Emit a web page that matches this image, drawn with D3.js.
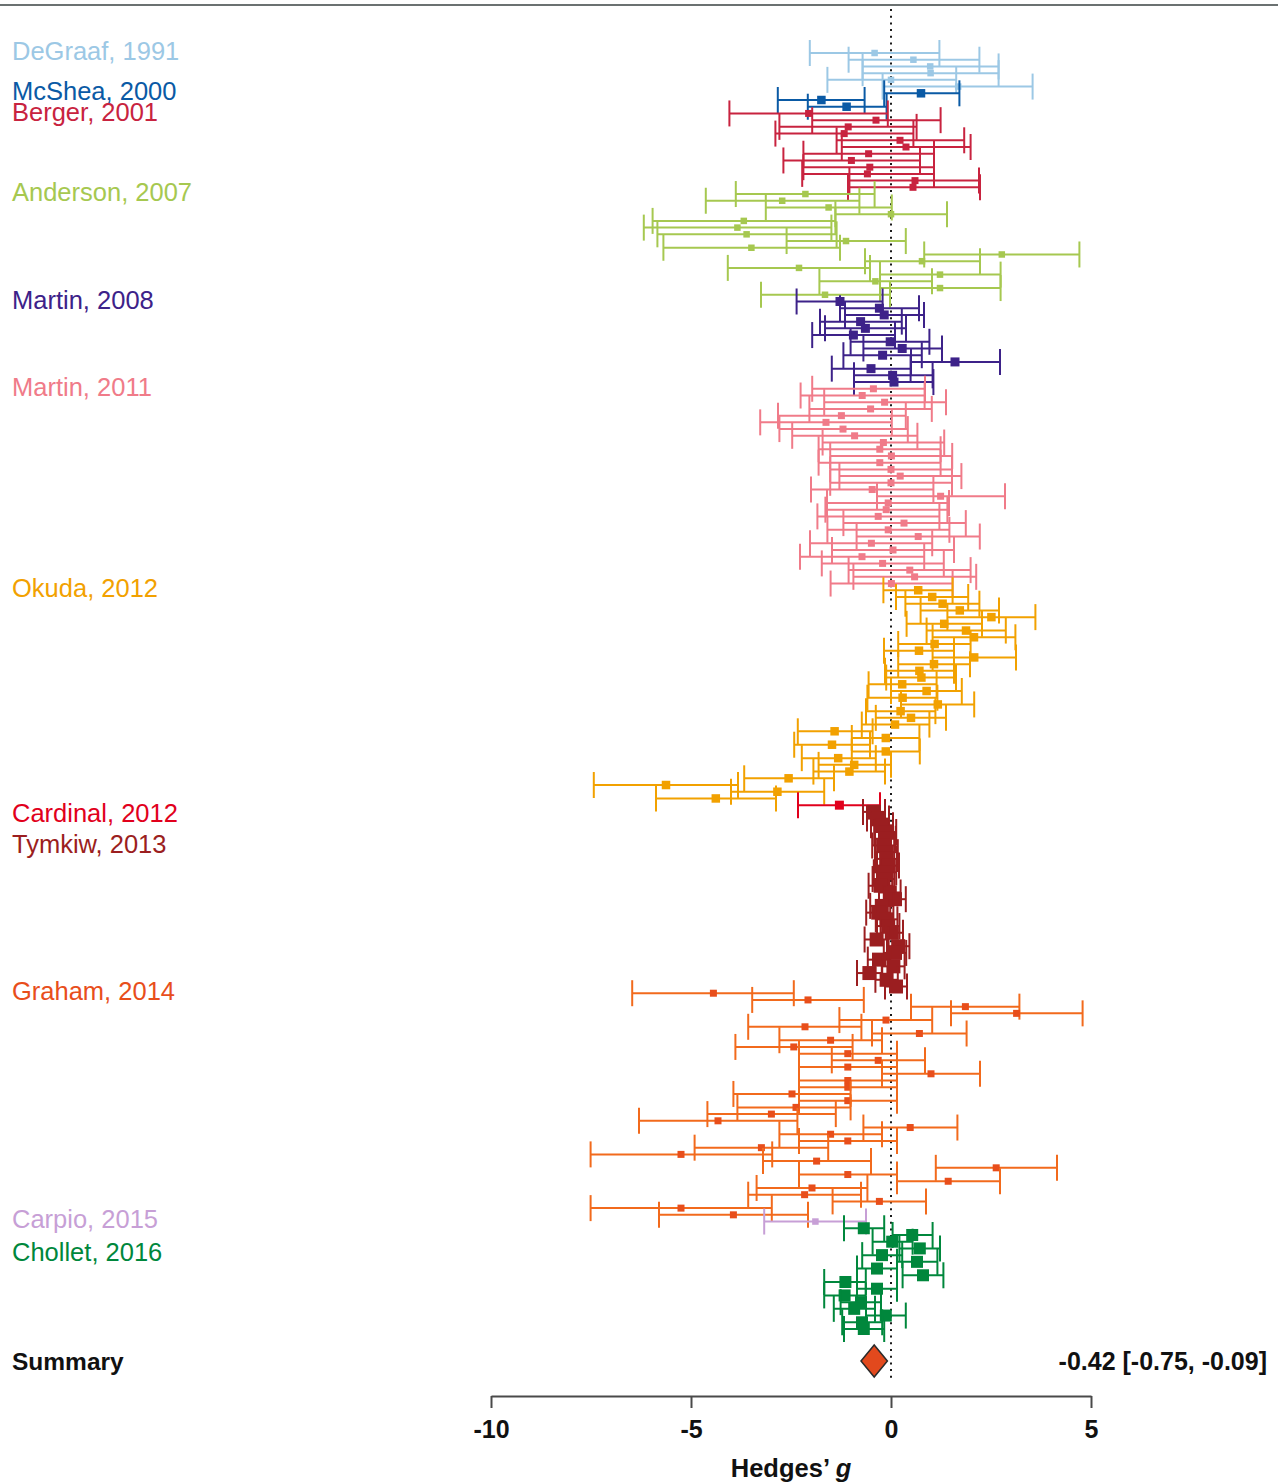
<!DOCTYPE html>
<html><head><meta charset="utf-8">
<script src="https://cdn.jsdelivr.net/npm/d3@7"></script>
<style>body{margin:0;background:#fff}svg{display:block}</style>
</head><body>
<svg id="chart" width="1278" height="1483"></svg>
<script>
// ---------- DATA: [Hedges' g, lower 95% CI, upper 95% CI] per effect size ----------
const studyNames = ["DeGraaf, 1991","McShea, 2000","Berger, 2001","Anderson, 2007","Martin, 2008","Martin, 2011","Okuda, 2012","Cardinal, 2012","Tymkiw, 2013","Graham, 2014","Carpio, 2015","Chollet, 2016"];

const deGraaf1991 = [[-0.41,-2.03,1.21],[0.56,-1.06,2.21],[0.98,-0.71,2.69],[0.99,-0.71,2.69],[0.00,-1.59,1.63],[1.68,-0.21,3.54]];
const mcShea2000 = [[0.75,-0.17,1.71],[-1.74,-2.83,-0.66],[-1.11,-2.08,-0.11]];
const berger2001 = [[-2.06,-4.04,-0.08],[-0.375,-1.97,1.24],[-1.07,-2.79,0.64],[-1.17,-2.89,0.56],[0.225,-1.36,1.83],[0.375,-1.23,1.99],[-0.56,-2.19,1.075],[-0.99,-2.69,0.725],[-0.53,-2.19,1.075],[-0.59,-2.22,1.075],[0.60,-1.04,2.20],[0.55,-1.075,2.225]];
const anderson2007 = [[-2.14,-3.88,-0.41],[-2.72,-4.63,-0.79],[-1.56,-3.13,0.02],[0.00,-1.39,1.40],[-3.68,-5.96,-1.39],[-3.84,-6.18,-1.49],[-3.61,-5.84,-1.36],[-1.125,-2.61,0.37],[-3.49,-5.69,-1.275],[2.77,0.83,4.71],[0.775,-0.65,2.225],[-2.30,-4.08,-0.525],[1.225,-0.275,2.74],[-0.39,-1.79,1.025],[1.225,-0.275,2.74],[-1.65,-3.25,-0.025]];
const martin2008 = [[-1.275,-2.36,-0.21],[-0.29,-1.275,0.70],[-0.17,-1.15,0.825],[-0.76,-1.775,0.27],[-0.64,-1.65,0.375],[-0.94,-1.97,0.10],[-0.02,-1.01,0.96],[0.28,-0.69,1.275],[-0.21,-1.19,0.77],[1.60,0.50,2.725],[-0.50,-1.48,0.49],[0.04,-0.925,1.04],[0.075,-0.925,1.06]];
const martin2011 = [[-0.44,-1.97,0.85],[-0.72,-2.26,0.84],[-0.16,-1.67,1.375],[-0.51,-2.04,1.02],[-1.24,-2.825,0.37],[-1.625,-3.27,0.02],[-1.20,-2.79,0.42],[-0.91,-2.47,0.66],[-0.19,-1.71,1.33],[-0.28,-1.81,1.24],[0.01,-1.52,1.53],[-0.28,-1.81,1.24],[0.00,-1.52,1.525],[0.23,-1.29,1.76],[0.00,-1.52,1.525],[-0.47,-2.00,1.06],[1.24,-0.35,2.85],[-0.07,-1.60,1.45],[-0.12,-1.64,1.41],[-0.32,-1.84,1.21],[0.325,-1.19,1.87],[-0.07,-1.59,1.46],[0.68,-0.86,2.22],[-0.49,-2.025,1.03],[0.05,-1.475,1.575],[-0.725,-2.275,0.83],[-0.21,-1.73,1.32],[0.47,-1.06,1.99],[0.59,-0.94,2.13],[0.01,-1.51,1.54]];
const okuda2012 = [[0.68,-0.19,1.54],[1.03,0.125,1.93],[1.29,0.36,2.21],[1.72,0.74,2.70],[2.51,1.41,3.61],[1.33,0.39,2.275],[1.875,0.89,2.87],[2.075,1.04,3.11],[1.09,0.18,1.99],[0.70,-0.175,1.575],[2.08,1.04,3.125],[1.075,0.18,1.975],[0.71,-0.15,1.575],[0.76,-0.12,1.625],[0.28,-0.56,1.14],[0.89,0.00,1.77],[0.29,-0.59,1.16],[1.17,0.25,2.08],[0.24,-0.625,1.11],[0.50,-0.38,1.375],[0.10,-0.73,0.96],[-1.41,-2.33,-0.46],[-0.13,-0.98,0.71],[-1.475,-2.42,-0.525],[-0.13,-0.98,0.72],[-1.32,-2.23,-0.38],[-0.92,-1.81,0.00],[-1.04,-1.94,-0.15],[-2.56,-3.67,-1.425],[-5.625,-7.43,-3.825],[-2.84,-4.00,-1.67],[-4.38,-5.875,-2.875]];
const cardinal2012 = [[-1.29,-2.325,-0.275]];
const tymkiw2013 = [[-0.43,-0.70,-0.15],[-0.32,-0.60,-0.05],[-0.23,-0.50,0.05],[-0.15,-0.42,0.13],[-0.15,-0.40,0.12],[-0.19,-0.47,0.08],[-0.11,-0.38,0.17],[-0.12,-0.40,0.15],[-0.07,-0.35,0.20],[-0.15,-0.43,0.13],[-0.19,-0.46,0.08],[-0.26,-0.56,0.03],[-0.03,-0.30,0.24],[0.10,-0.17,0.37],[-0.23,-0.52,0.06],[-0.32,-0.62,-0.02],[-0.11,-0.38,0.16],[-0.07,-0.35,0.21],[0.02,-0.26,0.30],[-0.36,-0.66,-0.06],[0.18,-0.10,0.46],[0.10,-0.18,0.38],[-0.30,-0.58,-0.02],[0.06,-0.22,0.34],[-0.54,-0.85,-0.23],[-0.11,-0.39,0.17],[0.125,-0.15,0.40]];
const graham2014 = [[-4.44,-6.47,-2.43],[-2.075,-3.47,-0.68],[1.86,0.50,3.21],[3.14,1.50,4.79],[-0.125,-1.29,1.03],[-2.15,-3.57,-0.74],[0.71,-0.475,1.89],[-1.51,-2.79,-0.225],[-2.43,-3.89,-0.96],[-1.08,-2.30,0.15],[-0.32,-1.48,0.85],[-1.08,-2.30,0.15],[1.00,-0.225,2.225],[-1.08,-2.30,0.15],[-1.08,-2.30,0.15],[-2.475,-3.94,-1.01],[-1.08,-2.30,0.15],[-2.375,-3.84,-1.01],[-2.99,-4.59,-1.38],[-4.325,-6.30,-2.34],[0.48,-0.69,1.66],[-1.51,-2.79,-0.225],[-1.08,-2.30,0.15],[-3.24,-4.91,-1.57],[-5.25,-7.51,-2.97],[-1.86,-3.20,-0.50],[2.63,1.12,4.15],[-1.08,-2.30,0.15],[1.43,0.15,2.725],[-1.975,-3.36,-0.59],[-2.16,-3.57,-0.75],[-0.29,-1.46,0.875],[-5.25,-7.51,-2.98],[-3.94,-5.80,-2.075]];
const carpio2015 = [[-1.89,-3.17,-0.625]];
const chollet2016 = [[-0.68,-1.175,-0.17],[0.53,0.04,1.04],[0.03,-0.46,0.54],[0.72,0.21,1.225],[-0.225,-0.72,0.28],[0.65,0.15,1.16],[-0.35,-0.85,0.15],[0.80,0.29,1.31],[-1.14,-1.67,-0.63],[-0.35,-0.85,0.15],[-1.16,-1.67,-0.63],[-0.75,-1.26,-0.25],[-0.92,-1.43,-0.40],[-0.13,-0.625,0.37],[-0.725,-1.22,-0.22],[-0.68,-1.175,-0.17]];

const studySeries = [deGraaf1991, mcShea2000, berger2001, anderson2007, martin2008, martin2011, okuda2012, cardinal2012, tymkiw2013, graham2014, carpio2015, chollet2016];

const summaryEstimate = [-0.42, -0.75, -0.09];
const summaryLabel = "-0.42 [-0.75, -0.09]";
const xTicks = [-10, -5, 0, 5];
const xTickLabels = ["-10", "-5", "0", "5"];

// ---------- STYLE ----------
const markColor = ["#9cc8e5","#0a5aa5","#c8233f","#a6c850","#3d2289","#f07b89","#f2a100","#e1001c","#9b1e20","#e84e1b","#c79fd6","#00873c"];
const lineColor = ["#9cc8e5","#0a5aa5","#c8233f","#a6c850","#3d2289","#f07b89","#f2a100","#e1001c","#9b1e20","#f26a1c","#c79fd6","#00873c"];
const squareSide = [6.5,8.5,7,6.5,9,7,8.5,9,14,7,6.5,12];
const labelDy = [-2,-2.3,-1.4,-2,-1.5,-1.8,-2.3,7.8,32,-2.3,-2.6,23.7];

const svg = d3.select("#chart");
const FONT = "'Liberation Sans', Arial, Helvetica, sans-serif";

const rows = [];
studySeries.forEach((s, si) => s.forEach(d => rows.push({si, g: d[0], lo: d[1], hi: d[2]})));

const x = d3.scaleLinear().domain([-10, 5]).range([491, 1091]);
const y = d3.scalePoint().domain(d3.range(rows.length)).range([53, 1329]);

// top rule
svg.append("line").attr("x1", 0).attr("x2", 1278).attr("y1", 5).attr("y2", 5)
  .attr("stroke", "#3a4242").attr("stroke-width", 1.6);

// zero reference (dotted)
svg.append("line").attr("x1", x(0)).attr("x2", x(0)).attr("y1", 9).attr("y2", 1381)
  .attr("stroke", "#1a1a1a").attr("stroke-width", 2).attr("stroke-dasharray", "2 4.7");

const capH = 13;
const g = svg.append("g");
const rg = g.selectAll("g.row").data(rows).join("g").attr("class", "row");
rg.append("line")
  .attr("x1", d => x(d.lo)).attr("x2", d => x(d.hi))
  .attr("y1", (d, i) => y(i)).attr("y2", (d, i) => y(i))
  .attr("stroke", d => lineColor[d.si]).attr("stroke-width", 2);
rg.append("line")
  .attr("x1", d => x(d.lo)).attr("x2", d => x(d.lo))
  .attr("y1", (d, i) => y(i) - capH).attr("y2", (d, i) => y(i) + capH)
  .attr("stroke", d => lineColor[d.si]).attr("stroke-width", 2);
rg.append("line")
  .attr("x1", d => x(d.hi)).attr("x2", d => x(d.hi))
  .attr("y1", (d, i) => y(i) - capH).attr("y2", (d, i) => y(i) + capH)
  .attr("stroke", d => lineColor[d.si]).attr("stroke-width", 2);
rg.append("rect")
  .attr("x", d => x(d.g) - squareSide[d.si] / 2)
  .attr("y", (d, i) => y(i) - squareSide[d.si] / 2)
  .attr("width", d => squareSide[d.si]).attr("height", d => squareSide[d.si])
  .attr("fill", d => markColor[d.si]);

// study labels
let start = 0;
studySeries.forEach((s, si) => {
  svg.append("text").attr("x", 12).attr("y", y(start) + labelDy[si] + 9)
    .attr("font-family", FONT).attr("font-size", 25.5).attr("fill", markColor[si])
    .text(studyNames[si]);
  start += s.length;
});

// summary
const sy = 1361;
svg.append("text").attr("x", 12).attr("y", sy + 9).attr("font-family", FONT)
  .attr("font-size", 24.5).attr("font-weight", "bold").attr("fill", "#111").text("Summary");
svg.append("path")
  .attr("d", `M${x(summaryEstimate[1])},${sy} L${x(summaryEstimate[0])},${sy - 16} L${x(summaryEstimate[2])},${sy} L${x(summaryEstimate[0])},${sy + 16} Z`)
  .attr("fill", "#e2491d").attr("stroke", "#2a2a2a").attr("stroke-width", 1.5);
svg.append("text").attr("x", 1267).attr("y", sy + 9).attr("text-anchor", "end")
  .attr("font-family", FONT).attr("font-size", 25).attr("font-weight", "bold").attr("fill", "#111")
  .text(summaryLabel);

// axis
const axis = svg.append("g").attr("transform", "translate(0,1396)")
  .call(d3.axisBottom(x).tickValues(xTicks).tickSize(12).tickSizeOuter(0).tickPadding(12)
    .tickFormat((d, i) => xTickLabels[i]));
axis.select(".domain").attr("stroke", "#4a4a4a").attr("stroke-width", 2);
axis.selectAll(".tick line").attr("stroke", "#4a4a4a").attr("stroke-width", 2);
axis.selectAll(".tick text").attr("font-family", FONT).attr("font-size", 25).attr("font-weight", "bold").attr("fill", "#111");

const title = svg.append("text").attr("x", x(-2.5)).attr("y", 1477).attr("text-anchor", "middle")
  .attr("font-family", FONT).attr("font-size", 25.5).attr("font-weight", "bold").attr("fill", "#111");
title.append("tspan").text("Hedges\u2019 ");
title.append("tspan").attr("font-style", "italic").text("g");
</script>
</body></html>
